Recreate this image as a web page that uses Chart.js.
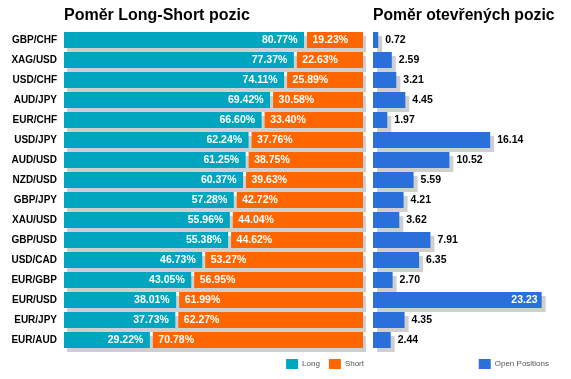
<!DOCTYPE html>
<html><head><meta charset="utf-8">
<script src="https://cdn.jsdelivr.net/npm/chart.js@4/dist/chart.umd.min.js"></script>
<style>
html,body{margin:0;padding:0;background:#fff;}
#wrap{position:relative;width:571px;height:379px;overflow:hidden;}
#c1{position:absolute;left:0;top:0;}
#c2{position:absolute;left:365px;top:0;}
</style></head><body>
<div id="wrap">
<canvas id="c1" width="373" height="379"></canvas>
<canvas id="c2" width="206" height="379"></canvas>
</div>
<script>
const pairs = ["GBP/CHF","XAG/USD","USD/CHF","AUD/JPY","EUR/CHF","USD/JPY","AUD/USD","NZD/USD","GBP/JPY","XAU/USD","GBP/USD","USD/CAD","EUR/GBP","EUR/USD","EUR/JPY","EUR/AUD"];
const longPct = [80.77,77.37,74.11,69.42,66.60,62.24,61.25,60.37,57.28,55.96,55.38,46.73,43.05,38.01,37.73,29.22];
const shortPct = [19.23,22.63,25.89,30.58,33.40,37.76,38.75,39.63,42.72,44.04,44.62,53.27,56.95,61.99,62.27,70.78];
const openPos = [0.72,2.59,3.21,4.45,1.97,16.14,10.52,5.59,4.21,3.62,7.91,6.35,2.70,23.23,4.35,2.44];

const TEAL = '#00A6C0', ORANGE = '#FF6600', BLUE = '#2970DB', SHADOW = '#CFCFCF';
const FONT = 'Arial, "Liberation Sans", sans-serif';

const shadowPlugin = {
  id: 'shadow',
  beforeDatasetsDraw(chart, args, opts) {
    const ctx = chart.ctx;
    ctx.save();
    ctx.fillStyle = opts.color;
    const metas = chart.getSortedVisibleDatasetMetas();
    const n = chart.data.labels.length;
    for (let i = 0; i < n; i++) {
      let x0 = Infinity, x1 = -Infinity, y0 = 0, y1 = 0;
      metas.forEach(m => {
        const p = m.data[i].getProps(['x','y','base','height'], true);
        x0 = Math.min(x0, p.base, p.x); x1 = Math.max(x1, p.base, p.x);
        y0 = p.y - p.height / 2; y1 = p.y + p.height / 2;
      });
      ctx.fillRect(x0 + opts.dx, y0 + opts.dy, x1 - x0, y1 - y0);
    }
    ctx.restore();
  }
};

const pctLabels = {
  id: 'pctLabels',
  afterDatasetsDraw(chart) {
    const ctx = chart.ctx;
    ctx.save();
    ctx.font = 'bold 10.5px ' + FONT;
    ctx.fillStyle = '#fff';
    ctx.textBaseline = 'middle';
    const mL = chart.getDatasetMeta(0), mS = chart.getDatasetMeta(1);
    mL.data.forEach((el, i) => {
      ctx.textAlign = 'right';
      ctx.fillText(longPct[i].toFixed(2) + '%', el.x - 8, el.y);
    });
    mS.data.forEach((el, i) => {
      ctx.textAlign = 'left';
      ctx.fillText(shortPct[i].toFixed(2) + '%', el.base + 7, el.y);
    });
    ctx.restore();
  }
};

const valLabels = {
  id: 'valLabels',
  afterDatasetsDraw(chart) {
    const ctx = chart.ctx;
    ctx.save();
    ctx.font = 'bold 10.5px ' + FONT;
    ctx.textBaseline = 'middle';
    const meta = chart.getDatasetMeta(0);
    meta.data.forEach((el, i) => {
      const t = openPos[i].toFixed(2);
      const w = ctx.measureText(t).width;
      if (el.x + 7 + w > chart.chartArea.right) {
        ctx.fillStyle = '#fff'; ctx.textAlign = 'right';
        ctx.fillText(t, el.x - 4, el.y);
      } else {
        ctx.fillStyle = '#000'; ctx.textAlign = 'left';
        ctx.fillText(t, el.x + 7, el.y);
      }
    });
    ctx.restore();
  }
};

const legendOpts = {
  position: 'bottom', align: 'end',
  labels: { boxWidth: 12, boxHeight: 10, padding: 9, color: '#555',
            font: { family: FONT, size: 8 } }
};

new Chart(document.getElementById('c1'), {
  type: 'bar',
  data: {
    labels: pairs,
    datasets: [
      { label: 'Long', data: longPct, backgroundColor: TEAL, borderColor: 'rgba(0,0,0,0)',
        borderWidth: {top:0,bottom:0,left:0,right:1.5}, borderSkipped: false, inflateAmount: 0 },
      { label: 'Short', data: shortPct, backgroundColor: ORANGE, borderColor: 'rgba(0,0,0,0)',
        borderWidth: {top:0,bottom:0,left:1.5,right:0}, borderSkipped: false, inflateAmount: 0 }
    ]
  },
  options: {
    responsive: false, animation: false, indexAxis: 'y',
    barPercentage: 0.8, categoryPercentage: 1,
    layout: { padding: 0 },
    scales: {
      x: { stacked: true, min: 0, max: 100, display: false },
      y: { stacked: true, grid: { display: false, drawTicks: false }, border: { display: false },
           ticks: { color: '#000', padding: 7, font: { family: FONT, size: 10, weight: 'bold' } },
           afterFit(s) { s.width = 64; } },
      yr: { type: 'category', position: 'right', display: true, grid: { display: false, drawTicks: false },
            border: { display: false }, ticks: { display: false }, afterFit(s) { s.width = 10; } }
    },
    plugins: {
      title: { display: true, text: 'Poměr Long-Short pozic', align: 'start', fullSize: false,
               color: '#000', font: { family: FONT, size: 16, weight: 'bold' },
               padding: { top: 6.4, bottom: 4.4 } },
      legend: legendOpts,
      tooltip: { enabled: false },
      shadow: { color: SHADOW, dx: 3, dy: 4 }
    }
  },
  plugins: [shadowPlugin, pctLabels]
});

new Chart(document.getElementById('c2'), {
  type: 'bar',
  data: {
    labels: pairs,
    datasets: [
      { label: 'Open Positions', data: openPos, backgroundColor: BLUE, borderWidth: 0, inflateAmount: 0 }
    ]
  },
  options: {
    responsive: false, animation: false, indexAxis: 'y',
    barPercentage: 0.8, categoryPercentage: 1,
    layout: { padding: { left: 8, right: 13, top: 0, bottom: 0 } },
    scales: {
      x: { min: 0, max: 25, display: false },
      y: { display: false },
      yr: { type: 'category', position: 'right', display: true, grid: { display: false, drawTicks: false },
            border: { display: false }, ticks: { display: false }, afterFit(s) { s.width = 3.5; } }
    },
    plugins: {
      title: { display: true, text: 'Poměr otevřených pozic', align: 'start', fullSize: false,
               color: '#000', font: { family: FONT, size: 16, weight: 'bold' },
               padding: { top: 6.4, bottom: 4.4 } },
      legend: legendOpts,
      tooltip: { enabled: false },
      shadow: { color: SHADOW, dx: 4, dy: 4 }
    }
  },
  plugins: [shadowPlugin, valLabels]
});
</script>
</body></html>
